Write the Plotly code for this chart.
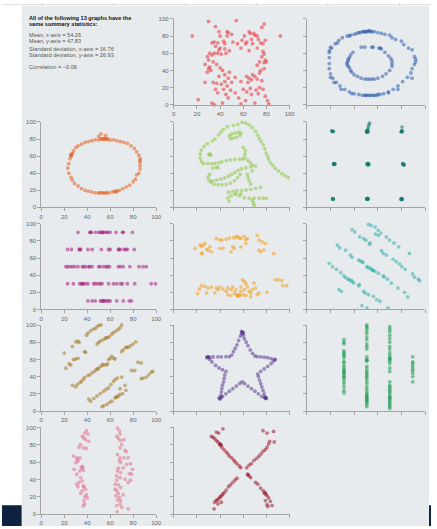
import plotly.graph_objects as go

W, H = 437, 529

# ---------------- data ----------------
AWAY = [(16,80),(30,97),(54,98),(78,94),(92,80),(36,91),(39,85),(46,85),(47,84),(40,80),(46,80),(50,82),
        (65,85),(66,83),(69,83),(70,81),(76,90),(61,80),(72,80),(35,73),(43,74),(51,73),(59,75),(63,73),
        (67,76),(73,76),(75,72),(79,75),(44,71),(38,72),(33,72),(55,71),(62,71),(68,71),(77,71),
        (36,68),(40,66),(44,65),(39,64),(31,60),(35,60),(38,60),(41,59),(45,60),(33,58),(29,56),(48,63),
        (58,66),(65,63),(72,66),(77,62),(78,59),(76,56),(30,52),(34,50),(37,47),(27,47),(74,50),(78,49),
        (80,50),(72,46),(79,52),(31,44),(32,40),(30,42),(29,38),(40,43),(42,40),(44,35),(39,33),(48,38),
        (47,31),(53,32),(58,27),(63,33),(65,31),(67,29),(64,26),(68,35),(70,33),(74,37),(75,40),(78,42),
        (72,30),(76,28),(44,27),(41,24),(37,25),(27,26),(34,26),(46,22),(50,26),(21,6),(33,2),(35,0),
        (42,2),(38,14),(43,18),(45,12),(49,17),(53,14),(56,8),(60,18),(63,15),(66,19),(67,12),(71,17),
        (73,13),(74,20),(77,18),(79,10),(81,5),(82,1),(70,2),(62,5),(58,1),(47,8),(36,18)]

BULLSEYE = [(40,82),(42,83),(44,84),(45,84),(47,85),(48,85),(49,85),(50,85),(51,85),(52,86),(53,86),
            (54,85),(55,85),(57,85),(60,84),(63,83),(66,82),(70,81),(72,78),(75,76),(80,74),(82,70),
            (86,66),(89,64),(91,56),(92,53),(92,50),(91,47),(89,42),(89,31),(88,37),(85,32),(81,27),
            (77,22),(77,18),(73,18),(69,15),(69,14),(65,13),(62,12),(60,12),(59,11),(57,11),(56,11),
            (54,11),(53,11),(51,11),(50,11),(49,11),(47,11),(44,12),(40,13),(38,13),(36,15),(32,18),
            (29,18),(28,22),(25,26),(23,26),(22,31),(20,32),(20,36),(19,42),(19,48),(19,55),(19,61),
            (19,63),(20,67),(21,66),(24,71),(26,72),(27,75),(30,78),(34,80),(36,80),(37,81),
            (46,67),(49,67),(55,67),(56,67),(61,66),(62,66),(63,65),(39,61),(37,58),(36,55),(35,53),
            (35,51),(34,49),(34,47),(35,45),(36,43),(37,40),(38,38),(40,35),(43,33),(46,31),(49,30),
            (51,30),(53,30),(55,30),(57,30),(60,31),(64,33),(67,36),(70,40),(72,45),(72,48),(72,51),
            (71,54),(69,57),(66,61)]

CIRCLE = [(30,70),(32,72),(35,74),(38,76),(41,77),(44,78),(47,79),(50,79),(52,80),(53,80),(54,80),(55,80),
          (56,80),(57,80),(58,80),(60,79),(63,79),(66,78),(69,77),(72,76),(75,75),(78,72),(81,69),(83,65),
          (85,61),(86,57),(86,55),(86,53),(86,49),(86,45),(85,40),(83,38),(82,33),(80,30),(77,26),(74,24),
          (71,22),(68,20),(66,19),(65,18),(64,19),(62,18),(59,17),(57,17),(56,17),(54,17),(53,17),(51,17),
          (50,17),(47,17),(44,18),(41,19),(38,20),(35,22),(32,25),(29,28),(27,32),(26,35),(24,40),(23,46),
          (24,51),(25,57),(26,60),(26,61),(26,62),(27,63),(28,66),(52,86),(50,83),(56,84)]

DINO = [(55.4,97.2),(51.5,96.0),(46.2,94.5),(42.8,91.4),(40.8,88.3),(38.7,84.9),(35.6,79.9),(33.1,77.6),
        (29.0,74.5),(26.2,71.4),(23.8,67.0),(22.8,62.5),(22.8,57.5),(23.8,53.5),(25.9,51.2),(29.5,51.2),
        (32.8,51.2),(35.4,51.4),(38.7,52.0),(41.5,53.5),(45.2,54.8),(48.9,55.6),(52.8,56.0),(56.8,56.3),
        (59.5,56.6),(61.3,57.9),(61.5,62.2),(61.8,66.4),(60.0,70.0),
        (59.0,99.5),(62.2,98.6),(65.0,96.5),(67.8,93.5),(70.6,89.0),(72.5,84.5),(74.0,80.5),(75.4,77.0),
        (77.1,73.2),(78.6,68.6),(79.7,63.6),(81.1,59.8),(81.9,56.0),(83.4,52.1),(85.6,49.1),(87.6,45.6),
        (90.4,42.6),(93.2,39.5),(96.1,37.0),(98.9,34.9),
        (48.0,84.0),(50.0,86.0),(53.0,87.0),(56.0,88.0),(58.0,87.0),(57.0,84.0),(54.0,82.0),(51.0,81.0),
        (49.0,80.5),
        (31.1,62.5),(31.9,61.0),(30.2,61.7),
        (64.0,55.0),(66.0,52.0),(68.0,49.5),(70.6,48.3),(66.4,47.5),(62.2,46.4),(58.5,45.2),(55.7,43.3),
        (52.8,41.0),(50.0,38.7),(47.2,36.4),(43.8,34.5),(40.4,33.0),(36.7,31.8),(33.1,31.1),
        (31.1,38.7),(29.7,35.7),(30.2,31.8),(31.9,29.2),(34.8,27.2),(38.2,26.5),(41.5,26.5),(45.2,26.9),
        (48.9,28.4),(52.3,31.1),(55.1,34.9),(57.4,38.7),
        (33.6,46.0),(36.7,46.8),(38.2,46.4),
        (63.6,38.7),(64.1,34.9),(65.0,31.1),(66.4,27.2),(67.8,42.6),
        (47.2,17.7),(50.9,18.8),(54.5,19.6),(58.5,19.6),(62.4,20.3),(66.4,21.1),(70.6,22.3),(74.9,23.4),
        (46.6,11.2),(49.4,13.5),(52.8,15.0),(56.5,13.5),(60.8,11.2),(65.0,10.8),(69.2,10.8),(73.5,10.8),
        (77.1,10.8),(80.0,10.8),(47.8,7.3),(67.8,8.1),(68.7,5.0),(69.5,2.0),(53.7,16.5),(57.9,15.7)]

DOTS = [(21.5,89.2),(22.0,88.6),(21.0,89.5),(22.5,89.0),
        (51.0,88.5),(50.5,89.0),(51.5,88.0),(51.0,89.3),(50.8,88.2),(51.2,88.8),(51.6,89.6),(50.6,88.9),
        (51.5,91.5),(52.0,94.0),(52.5,96.5),(53.0,98.5),
        (80.0,88.8),(80.5,89.2),(79.8,88.4),(80.2,89.5),(80.7,88.7),(80.5,94.0),
        (23.0,51.0),(23.5,50.5),(22.8,50.2),(23.2,51.3),(23.7,50.8),(22.6,50.9),
        (51.0,51.2),(51.8,50.4),(52.2,49.8),(51.4,50.9),(52.0,51.1),(51.6,50.0),(52.4,50.6),(51.2,50.3),
        (81.0,51.0),(81.8,50.0),(82.2,49.5),(81.4,50.7),(82.0,50.3),(81.2,51.3),
        (22.0,9.8),(22.4,9.5),(21.8,10.2),(22.2,9.9),
        (51.0,10.0),(51.5,9.6),(50.8,10.3),(51.2,9.8),(51.7,10.2),(50.6,9.7),(51.4,10.4),(51.1,9.9),
        (80.0,9.5),(80.5,9.8),(79.8,9.3),(80.3,10.1),(80.6,9.4),(79.6,9.9)]

H_LINES = [(32,90),(42.3,90),(43.4,90),(43.0,90),(47.1,90),(50,90),(51.4,90),(52.9,90),(54.3,90),(53.5,90),
           (56.6,90),(57.7,90),(60,90),(65.1,90),(71.4,90),(70.8,90),(79.4,90),
           (22.9,70),(26.3,70),(32.9,70),(34.3,70),(33.6,70),(40.6,70),(44.3,70),(52.3,70),(58.6,70),
           (60,70),(67.1,70),(68.6,70),(67.8,70),(72,70),(73.7,70),(74.9,70),(80.9,70),
           (21.4,50),(22.9,50),(25.1,50),(27.1,50),(29.1,50),(32,50),(35.7,50),(37.1,50),(38.6,50),
           (41.4,50),(42.2,50),(44.3,50),(50,50),(51.4,50),(54.3,50),(56.6,50),(57.7,50),(59.4,50),
           (67.1,50),(69.1,50),(71.4,50),(77.1,50),(85.1,50),(88.6,50),(91.4,50),
           (22.9,30),(28,30),(33.4,30),(35.1,30),(36.6,30),(35.8,30),(38.6,30),(40.6,30),(45.7,30),
           (47.1,30),(49.4,30),(51.4,30),(52.9,30),(58.6,30),(62.9,30),(65.7,30),(69.1,30),(70.6,30),
           (74.9,30),(81.4,30),(95.7,30),(99.4,30),
           (40.6,10),(44.3,10),(47.1,10),(51.4,10),(52.9,10),(54.3,10),(53.6,10),(55.7,10),(57.1,10),
           (58.6,10),(60,10),(65.7,10),(71.4,10),(76.6,10),(78.6,10)]

HIGH_LINES = [(24.0,73.8),(25.4,75.0),(31.1,73.1),(36.7,82.7),(39.6,81.5),(41.5,80.8),(45.2,81.9),(48.0,83.5),
              (51.7,83.8),(53.7,84.6),(56.5,83.5),(60.8,85.4),(63.6,82.7),(72.1,86.5),(73.5,80.8),(76.3,78.8),
              (79.1,76.9),(62.2,76.9),(57.9,73.1),(52.3,71.2),(49.4,67.3),(73.5,69.2),(74.9,67.3),(32.5,67.3),
              (29.7,69.2),(24.0,65.4),(39.6,71.2),(42.4,71.2),(86.2,65.4),(77.7,69.2),(50.9,73.1),(62.2,81.5),
              (18.4,71.2),(22.6,75.0),(24.6,65.4),(26.9,76.9),(28.3,70.0),(55.0,85.0),(58.0,83.0),
              (26.9,26.9),(29.7,25.0),(32.5,26.2),(36.7,25.0),(38.2,23.1),(39.6,26.2),(42.4,23.9),(45.2,21.2),
              (46.6,25.0),(49.4,23.1),(50.9,26.2),(52.3,19.3),(53.7,17.3),(55.1,16.2),(56.5,17.3),(57.9,21.2),
              (59.3,34.6),(60.8,32.7),(62.2,30.0),(63.6,26.2),(65.0,21.2),(66.4,19.3),(67.8,23.1),(69.2,30.8),
              (70.6,25.0),(72.1,17.3),(73.5,19.3),(80.5,20.0),(87.6,34.6),(90.4,34.6),(93.2,33.5),(94.1,27.7),
              (97.5,27.7),(49.4,16.2),(46.6,17.3),(35.3,19.3),(28.3,19.3),(60.8,23.1),(57.9,26.2),(62.2,16.2),
              (66.4,14.6),(53.7,23.1),(20.6,18.5),(24.0,27.7),(22.0,24.0),(55.5,15.5),(57.0,16.5),(60.0,17.0)]

SLANT_DOWN = [(52.1,99.2),(54.3,98.1),(57.7,96.1),(60.4,92.3),(62.6,89.2),(67.3,84.6),(73.7,77.7),(77.6,73.1),
              (86.7,65.4),(38.3,93.1),(40.5,90.4),(44.7,84.6),(48.0,82.7),(49.9,80.8),(53.5,77.7),(25.9,75.0),
              (27.8,71.9),(32.8,69.2),(36.9,63.5),(38.3,60.8),(43.8,57.7),(46.6,55.8),(50.8,50.0),(53.5,48.1),
              (56.3,45.4),(60.4,42.3),(64.6,39.2),(68.2,35.4),(71.5,30.8),(77.0,25.0),(82.6,20.0),(85.3,14.6),
              (19.0,53.8),(21.7,50.0),(25.0,46.9),(28.6,43.1),(31.4,39.2),(35.0,35.4),(37.8,33.8),(39.7,30.8),
              (43.8,27.7),(63.2,68.5),(64.6,65.4),(67.3,63.5),(72.9,58.5),(75.6,55.8),(78.4,53.1),(80.3,50.0),
              (83.1,46.9),(89.5,41.5),(90.9,37.7),(94.2,35.4),(95.3,33.5),(27.2,23.1),(29.2,21.2),(49.4,19.2),
              (52.1,17.3),(56.3,15.4),(59.1,11.5),(61.8,9.6),(46.6,4.6),(50.8,1.9),(68.7,1.9),(36.0,34.5),
              (38.5,32.5),(54.5,47.0),(55.5,46.0),(57.5,44.5),(51.5,49.0),(45.0,56.8),(47.5,55.0),(58.0,88.0),
              (60.5,86.5),(70.0,81.0),(33.0,37.0),(65.5,38.0),(53.0,76.0),(44.5,29.0),(48.0,21.0)]

SLANT_UP = [(39.4,88.1),(40.6,90.4),(42.9,93.1),(45.1,95.0),(47.1,95.8),(48.6,98.1),(50.3,99.6),(52.0,100),
            (48.6,77.8),(50.0,79.7),(51.4,81.6),(53.7,82.8),(55.7,84.3),(56.6,85.4),(57.7,85.4),(59.4,86.6),
            (61.4,89.3),(62.9,91.2),(65.1,93.1),(67.1,95.0),(68.6,96.9),(70.0,100),
            (27.1,75.1),(30.0,80.5),(32.0,81.2),(32.9,79.7),(20.0,67.4),
            (21.4,49.8),(24.3,54.8),(25.7,53.6),(28.0,59.8),(30.0,60.5),(32.0,61.3),(37.7,69.0),(38.6,68.2),
            (27.1,29.9),(30.0,28.0),(31.4,30.7),(33.7,33.0),(34.9,34.5),(36.6,36.8),(37.7,39.1),
            (40.6,41.4),(42.3,42.1),(44.3,44.4),(46.3,46.0),(48.0,48.3),(50.0,49.8),(52.0,52.1),(54.3,53.6),
            (56.6,53.6),(57.7,54.8),(53.5,54.0),(49.0,49.0),
            (58.6,59.8),(60.0,61.3),(61.4,63.6),(62.9,61.3),(64.3,60.5),
            (70.0,69.0),(71.4,71.3),(73.7,73.9),(75.7,73.9),(77.7,75.9),(80.0,77.8),(82.3,80.5),(74.5,74.0),
            (78.6,47.1),(81.4,47.1),(84.3,56.7),(87.1,55.9),
            (87.1,37.5),(88.6,38.3),(91.4,39.5),(93.7,42.1),(95.7,45.2),(97.1,46.0),
            (41.4,13.8),(42.9,11.5),(45.7,14.6),(48.6,17.6),(51.4,20.3),(54.3,23.0),(56.6,25.3),(58.6,26.8),
            (60.6,30.7),(62.9,34.5),(64.3,36.8),(66.3,38.3),(70.0,39.5),(72.9,29.9),(68.6,26.0),
            (52.9,5.0),(54.3,6.1),(57.1,7.7),(59.4,10.0),(61.4,11.5),(64.3,15.3),(66.3,16.5),(68.6,19.2),
            (70.9,20.3),(73.7,24.1),(65.0,16.0),(67.0,17.5)]

STAR = [(59.3,91.2),(59.0,92.0),(60.0,91.0),(58.5,92.5),(59.5,90.5),
        (58.5,90.0),(57.5,87.0),(56.0,82.0),(54.5,77.0),(53.0,73.0),(51.5,69.0),(50.0,65.0),
        (60.0,88.0),(61.0,84.0),(62.5,80.0),(64.0,76.0),(66.0,71.0),(68.0,67.0),(70.0,64.0),
        (29.1,62.5),(29.0,63.0),(28.5,62.0),(30.0,63.0),
        (31.0,62.5),(34.0,62.8),(38.0,63.0),(41.0,63.0),(45.0,63.2),(48.0,63.2),
        (72.0,63.2),(75.0,63.0),(78.0,62.5),(81.0,62.0),(84.0,61.0),(87.0,60.0),(87.6,59.8),
        (31.0,60.0),(33.0,57.0),(36.0,53.0),(39.0,50.0),(42.0,48.0),(45.0,46.0),
        (86.0,58.0),(84.0,55.0),(81.0,52.0),(78.0,49.0),(75.0,46.0),(72.5,43.0),
        (44.0,42.0),(43.5,38.0),(43.0,34.0),(42.0,30.0),(41.5,26.0),(41.0,22.0),(40.5,18.0),(40.0,15.0),
        (73.0,40.0),(74.0,36.0),(75.0,32.0),(76.0,28.0),(77.0,24.0),(78.0,20.0),(79.0,16.0),
        (42.0,17.0),(45.0,20.0),(48.0,23.0),(51.0,26.0),(54.0,29.0),(57.0,32.0),(59.0,34.0),
        (61.0,32.0),(64.0,29.0),(67.0,26.0),(70.0,23.0),(73.0,20.0),(76.0,17.0),
        (39.0,15.0),(40.0,14.0),(41.0,16.0),(79.0,15.5),(80.0,15.0),(78.5,16.0),(79.5,14.5),(79.0,15.0)]

V_LINES = [(31.4,83),(31.4,80),(31.4,78),(31.4,70),(31.4,68),(31.4,66),(31.4,64),(31.4,62),(31.4,58),
           (31.4,56),(31.4,53),(31.4,50),(31.4,48),(31.4,46),(31.4,44),(31.4,44.5),(31.4,40),(31.4,40.5),
           (31.4,38),(31.4,35),(31.4,32),(31.4,28),(31.4,24),(31.4,21),
           (50.7,100),(50.7,98),(50.7,96),(50.7,93),(50.7,90),(50.7,86),(50.7,83),(50.7,78),(50.7,75),
           (50.7,72),(50.7,63),(50.7,60),(50.7,58),(50.7,52),(50.7,49),(50.7,46),(50.7,44),(50.7,42),
           (50.7,40),(50.7,38),(50.7,35),(50.7,32),(50.7,28),(50.7,25),(50.7,22),(50.7,20),(50.7,18),
           (50.7,16),(50.7,14),(50.7,12),(50.7,10),(50.7,8),(50.7,5),(50.7,16.5),(50.7,13),(50.7,59),
           (70.1,98),(70.1,95),(70.1,92),(70.1,88),(70.1,84),(70.1,80),(70.1,75),(70.1,72),(70.1,68),
           (70.1,65),(70.1,62),(70.1,60),(70.1,58),(70.1,55),(70.1,50),(70.1,46),(70.1,34),(70.1,30),
           (70.1,28),(70.1,26),(70.1,24),(70.1,22),(70.1,20),(70.1,17),(70.1,15),(70.1,13),(70.1,11),
           (70.1,9),(70.1,7),(70.1,5),(70.1,3),(70.1,61),(70.1,15.5),
           (89.5,63),(89.5,57),(89.5,55),(89.5,52),(89.5,49),(89.5,47),(89.5,44),(89.5,40),(89.5,34)]

WIDE_LINES = [(39.4,96.2),(37.7,93.5),(40.6,92.4),(35.7,89.7),(37.1,87.8),(38.6,85.9),(41.4,84.0),(34.3,80.2),
              (32.9,77.2),(36.6,76.4),(39.4,75.7),(28.0,66.9),(30.9,65.0),(33.7,65.0),(32.0,61.2),(30.0,59.3),
              (28.6,51.7),(34.9,54.4),(35.7,52.9),(36.6,50.6),(33.7,49.8),(30.9,46.0),(34.3,42.2),(35.7,38.4),
              (32.9,36.5),(30.9,34.6),(36.6,32.7),(32.0,31.6),(37.1,31.6),(38.6,28.9),(35.7,27.0),(34.3,24.0),
              (37.7,20.2),(40.0,18.6),(37.1,15.6),(37.7,11.8),(36.6,9.5),(39.4,22.4),(36.0,55.0),(31.5,63.0),
              (66.3,99.2),(68.0,96.2),(68.6,92.4),(65.7,89.7),(67.1,87.1),(69.1,84.8),(72.0,85.9),(70.0,80.2),
              (68.6,76.4),(72.9,73.4),(74.3,71.9),(66.3,68.8),(68.6,65.0),(72.0,65.0),(68.0,62.0),(75.7,65.0),
              (69.1,59.3),(74.3,57.4),(77.7,58.2),(79.4,51.7),(71.4,53.6),(67.1,52.9),(66.3,49.8),(69.1,47.9),
              (76.6,46.8),(78.6,46.0),(68.6,42.2),(65.7,39.2),(72.9,40.3),(77.7,39.2),(75.7,36.5),(64.3,34.6),
              (67.1,33.8),(69.1,30.8),(65.7,27.0),(67.1,24.0),(65.1,21.3),(68.0,19.4),(66.3,16.3),(69.1,15.6),
              (68.6,11.8),(75.7,6.1),(70.0,8.0),(65.7,9.9),(71.4,22.4),(64.3,28.9),(65.7,44.1),(66.0,3.0)]

X_SHAPE = [(42.4,98.4),(36.7,94.6),(38.7,93.5),(32.5,89.7),(33.9,88.6),(35.3,87.0),(36.7,84.8),(38.1,83.2),
           (39.6,81.0),(40.4,79.4),(40.8,80.2),(39.9,80.6),(41.5,77.2),(43.2,74.5),(45.2,71.8),(46.6,69.6),
           (48.0,66.9),(50.0,65.0),(51.7,62.3),(52.8,60.4),(54.5,58.2),(56.5,55.5),(57.9,53.6),
           (77.1,96.2),(80.5,93.5),(86.2,95.4),(82.8,84.0),(86.7,83.2),(81.9,81.0),(80.5,77.2),(79.1,74.5),
           (77.1,72.6),(75.4,69.6),(73.5,66.9),(71.5,64.2),(69.2,62.0),(67.0,58.2),(65.0,56.6),(63.0,53.6),
           (54.5,41.4),(52.8,39.2),(50.9,36.5),(48.9,33.8),(47.2,31.6),(45.2,27.8),(43.8,25.1),(42.4,23.2),
           (41.6,22.0),(40.4,20.2),(39.8,19.6),(38.7,17.5),(36.7,15.6),(35.3,13.7),(34.8,6.1),(38.1,11.8),
           (41.0,13.7),(37.5,16.5),
           (63.6,46.0),(64.2,45.2),(65.0,44.1),(66.4,42.2),(70.6,36.5),(72.6,34.6),(74.9,30.0),(77.1,27.0),
           (78.3,24.0),(78.8,25.0),(80.5,21.3),(81.9,18.6),(83.4,14.8),(80.5,11.0),(84.8,9.9),(81.1,8.8),
           (79.1,15.6),(79.5,23.0)]

PANELS = [  # name, data, colour, row, col, show tick labels
    ("away", AWAY, "#e8333c", 0, 1, True),
    ("bullseye", BULLSEYE, "#2d5ca8", 0, 2, False),
    ("circle", CIRCLE, "#e65c1a", 1, 0, True),
    ("dino", DINO, "#8dc63f", 1, 1, False),
    ("dots", DOTS, "#137a6c", 1, 2, False),
    ("h_lines", H_LINES, "#a3207d", 2, 0, True),
    ("high_lines", HIGH_LINES, "#f0a020", 2, 1, False),
    ("slant_down", SLANT_DOWN, "#34b0a6", 2, 2, False),
    ("slant_up", SLANT_UP, "#a57a28", 3, 0, True),
    ("star", STAR, "#5b3a8e", 3, 1, False),
    ("v_lines", V_LINES, "#1e9a50", 3, 2, False),
    ("wide_lines", WIDE_LINES, "#e2708f", 4, 0, True),
    ("x_shape", X_SHAPE, "#9b1b2b", 4, 1, False),
]
TICKS = [0, 20, 40, 60, 80, 100]

STATS_TITLE = ["All of the following 13 graphs have the", "same summary statistics:"]
STATS_LINES = [("Mean, x-axis = 54.26", 32), ("Mean, y-axis = 47.83", 38),
               ("Standard deviation, x-axis = 16.76", 47), ("Standard deviation, y-axis = 26.93", 53),
               ("Correlation = \u22120.06", 65)]

# ---------------- layout geometry (pixels) ----------------
COLS = [(40, 157), (175, 293), (310.5, 431)]
ROWS = [(16, 103), (120.3, 206.7), (223.3, 310), (325.7, 412.7), (429.3, 517)]

fig = go.Figure()
layout = {}
for i, (name, pts, col, r, c, lab) in enumerate(PANELS):
    n = i + 1
    xs = [p[0] for p in pts]
    ys = [p[1] for p in pts]
    fig.add_trace(go.Scatter(
        x=xs, y=ys, mode="markers", name=name, cliponaxis=False,
        xaxis="x" if n == 1 else f"x{n}", yaxis="y" if n == 1 else f"y{n}",
        marker=dict(size=3.8, color=col, opacity=0.55, line=dict(width=0)),
        hoverinfo="skip", showlegend=False))
    x0, x1 = COLS[c]
    y0, y1 = ROWS[r]
    common = dict(range=[0, 100], tickvals=TICKS, showgrid=False, zeroline=False,
                  showline=True, linecolor="#a3a3a3", linewidth=1, ticks="outside",
                  ticklen=3, tickwidth=1, tickcolor="#a3a3a3", showticklabels=lab,
                  tickfont=dict(size=6, color="#666666", family="Liberation Sans, Arial"),
                  fixedrange=True)
    layout["xaxis" if n == 1 else f"xaxis{n}"] = dict(
        domain=[x0 / W, x1 / W], anchor="y" if n == 1 else f"y{n}", **common)
    layout["yaxis" if n == 1 else f"yaxis{n}"] = dict(
        domain=[1 - y1 / H, 1 - y0 / H], anchor="x" if n == 1 else f"x{n}", **common)

shapes = [
    dict(type="rect", xref="paper", yref="paper", x0=20 / W, x1=435 / W, y0=0, y1=1 - 3 / H,
         fillcolor="#e8ebee", line=dict(width=0), layer="below"),
    dict(type="rect", xref="paper", yref="paper", x0=0, x1=20 / W, y0=0, y1=1 - 508 / H,
         fillcolor="#0d2240", line=dict(width=0), layer="below"),
    dict(type="rect", xref="paper", yref="paper", x0=435 / W, x1=1, y0=0, y1=1 - 508 / H,
         fillcolor="#0d2240", line=dict(width=0), layer="below"),
    dict(type="line", xref="paper", yref="paper", x0=0, x1=1, y0=1 - 1.7 / H, y1=1 - 1.7 / H,
         line=dict(color="#dcdcdc", width=1), layer="below"),
]
for px in [41, 114, 187, 259, 332, 405]:
    shapes.append(dict(type="line", xref="paper", yref="paper", x0=px / W, x1=px / W,
                       y0=1 - 2 / H, y1=1, line=dict(color="#cfcfcf", width=1), layer="below"))

annotations = []
for txt, py in zip(STATS_TITLE, [15, 21.5]):
    annotations.append(dict(text=f"<b>{txt}</b>", xref="paper", yref="paper", x=25 / W, y=1 - py / H,
                            xanchor="left", yanchor="middle", showarrow=False,
                            font=dict(size=5.6, color="#111111", family="Liberation Sans, Arial")))
for txt, py in STATS_LINES:
    annotations.append(dict(text=txt, xref="paper", yref="paper", x=25 / W, y=1 - py / H,
                            xanchor="left", yanchor="middle", showarrow=False,
                            font=dict(size=5.6, color="#555555", family="Liberation Sans, Arial")))

fig.update_layout(width=W, height=H, margin=dict(l=0, r=0, t=0, b=0),
                  paper_bgcolor="white", plot_bgcolor="rgba(0,0,0,0)",
                  shapes=shapes, annotations=annotations, **layout)
fig.write_html("out.html", config={"displayModeBar": False},
               post_script="document.body.style.margin='0';document.body.style.overflow='hidden';")
